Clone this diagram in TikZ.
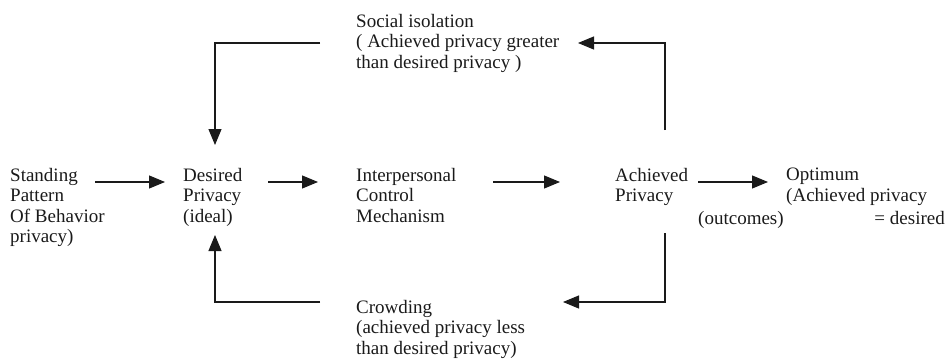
\documentclass[tikz,border=0pt]{standalone}
\usepackage{fontspec}
\setmainfont{Liberation Serif}
\usetikzlibrary{arrows.meta, positioning}
\definecolor{ink}{HTML}{1A1A1A}
\tikzset{
  txt/.style={anchor=north west, inner sep=0pt, align=left,
              font=\fontsize{19}{20.5}\selectfont, text=ink},
  fl/.style={-{Triangle[length=16pt, width=13pt]}, line width=1.1pt, draw=ink},
}
\begin{document}
\begin{tikzpicture}[x=1pt, y=-1pt]
  \useasboundingbox (0,0) rectangle (946,359);
  \node[txt] (stand) at (10,168) {Standing\\Pattern\\Of Behavior\\privacy)};
  \node[txt] (des) at (183,168) {Desired\\Privacy\\(ideal)};
  \node[txt] (icm) at (356,168) {Interpersonal\\Control\\Mechanism};
  \node[txt] (ach) at (615,168) {Achieved\\Privacy};
  \node[txt] (opt) at (786,168) {Optimum\\(Achieved privacy};
  \node[txt, anchor=north east] (optx) at (945,211) {= desired};
  \node[txt] (outc) at (698,211) {(outcomes)};
  \node[txt] (soc) at (356,14) {Social isolation\\( Achieved privacy greater\\than desired privacy )};
  \node[txt] (crw) at (356,300) {Crowding\\(achieved privacy less\\than desired privacy)};

  \draw[fl] ([shift={(85,14)}]stand.north west) -- ([shift={(-18,14)}]des.north west);
  \draw[fl] ([shift={(85,14)}]des.north west) -- ([shift={(-38,14)}]icm.north west);
  \draw[fl] ([shift={(137,14)}]icm.north west) -- ([shift={(-55,14)}]ach.north west);
  \draw[fl] ([shift={(83,14)}]ach.north west) -- ([shift={(-18,14)}]opt.north west);

  \draw[fl] ([shift={(-36,29)}]soc.north west) -| ([shift={(32,-23)}]des.north west);
  \draw[fl] ([shift={(50,-38)}]ach.north west) |- ([shift={(222,29)}]soc.north west);
  \draw[fl] ([shift={(50,65)}]ach.north west) |- ([shift={(207,2)}]crw.north west);
  \draw[fl] ([shift={(-36,2)}]crw.north west) -| ([shift={(32,67)}]des.north west);
\end{tikzpicture}
\end{document}
